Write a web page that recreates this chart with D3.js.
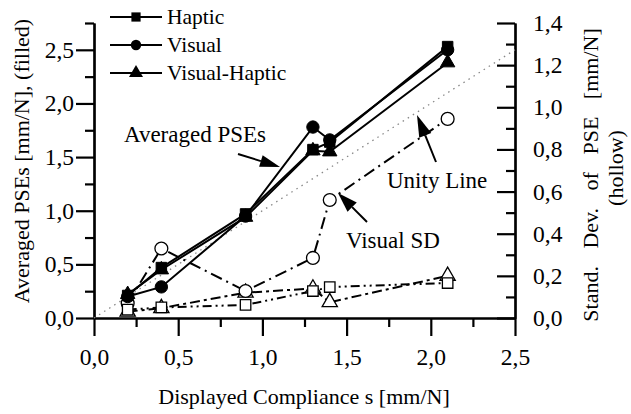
<!DOCTYPE html>
<html>
<head>
<meta charset="utf-8">
<script src="https://cdn.jsdelivr.net/npm/d3@7"></script>
<style>
  html, body { margin: 0; padding: 0; background: #fff; }
  svg { display: block; }
  text { font-family: "Liberation Serif", "Times New Roman", serif; fill: #000; }
</style>
</head>
<body>
<script>
// ---- data ----
const compliance = [0.2, 0.4, 0.9, 1.3, 1.4, 2.1];
const hapticPSE  = [0.21, 0.47, 0.97, 1.57, 1.64, 2.53];
const visualPSE  = [0.20, 0.29, 0.95, 1.78, 1.66, 2.50];
const visHapPSE  = [0.22, 0.45, 0.94, 1.56, 1.55, 2.38];
const hapticSD   = [0.04, 0.05, 0.062, 0.128, 0.147, 0.166];
const visualSD   = [0.07, 0.33, 0.128, 0.285, 0.56, 0.945];
const visHapSD   = [0.03, 0.047, 0.12, 0.14, 0.075, 0.20];
const xTicks = [0, 0.5, 1.0, 1.5, 2.0, 2.5];
const yLeftTicks = [0, 0.5, 1.0, 1.5, 2.0, 2.5];
const yRightTicks = [0, 0.2, 0.4, 0.6, 0.8, 1.0, 1.2, 1.4];
const legendLabels = ["Haptic", "Visual", "Visual-Haptic"];
const unity = [0, 2.5];

const W = 631, H = 414;
const svg = d3.select("body").append("svg").attr("width", W).attr("height", H);
svg.append("rect").attr("width", W).attr("height", H).attr("fill", "#fff");

const x = d3.scaleLinear([0, 2.5], [94, 515]);
const yL = d3.scaleLinear([0, 2.75], [318, 23]);
const yR = d3.scaleLinear([0, 1.4], [318, 23]);
const fmt = d => d3.format(".1f")(d).replace(".", ",");

function styleAxis(g) {
  g.selectAll("path.domain").attr("stroke", "#000").attr("stroke-width", 2.2);
  g.selectAll(".tick line").attr("stroke", "#000").attr("stroke-width", 2.2);
  g.selectAll("text").attr("font-family", "Liberation Serif").attr("font-size", 23.5).attr("fill", "#000");
}

// minor tick values
const xMinor = d3.range(0.25, 2.5, 0.5);
const yLMinor = d3.range(0.25, 2.8, 0.5);
const yRMinor = d3.range(0.1, 1.4, 0.2);

// bottom axis
const gx = svg.append("g").attr("transform", "translate(0,318)");
gx.call(d3.axisBottom(x).tickValues(xTicks).tickFormat(fmt).tickSize(18).tickSizeOuter(0).tickPadding(12));
styleAxis(gx);
const gxm = svg.append("g").attr("transform", "translate(0,318)");
gxm.call(d3.axisBottom(x).tickValues(xMinor).tickFormat("").tickSize(9).tickSizeOuter(0));
styleAxis(gxm);

// left axis
const gl = svg.append("g").attr("transform", "translate(94,0)");
gl.call(d3.axisLeft(yL).tickValues(yLeftTicks).tickFormat(fmt).tickSize(18).tickSizeOuter(0).tickPadding(2));
styleAxis(gl);
const glm = svg.append("g").attr("transform", "translate(94,0)");
glm.call(d3.axisLeft(yL).tickValues(yLMinor).tickFormat("").tickSize(9).tickSizeOuter(0));
styleAxis(glm);

// right axis
const gr = svg.append("g").attr("transform", "translate(515,0)");
gr.call(d3.axisRight(yR).tickValues(yRightTicks).tickFormat(fmt).tickSize(-18).tickSizeOuter(0).tickPadding(18));
styleAxis(gr);
const grm = svg.append("g").attr("transform", "translate(515,0)");
grm.call(d3.axisRight(yR).tickValues(yRMinor).tickFormat("").tickSize(-9).tickSizeOuter(0));
styleAxis(grm);

// axis titles
svg.append("text").attr("x", 304).attr("y", 404).attr("text-anchor", "middle")
  .attr("font-size", 22).text("Displayed Compliance s [mm/N]");
svg.append("text").attr("transform", "translate(21,161) rotate(-90)").attr("text-anchor", "middle")
  .attr("dominant-baseline", "central").attr("font-size", 22).text("Averaged PSEs [mm/N], (filled)");
svg.append("text").attr("transform", "translate(590,175) rotate(-90)").attr("text-anchor", "middle")
  .attr("dominant-baseline", "central").attr("font-size", 22).attr("word-spacing", 12)
  .text("Stand. Dev. of PSE [mm/N]");
svg.append("text").attr("transform", "translate(615,168) rotate(-90)").attr("text-anchor", "middle")
  .attr("dominant-baseline", "central").attr("font-size", 22).text("(hollow)");

// unity line
svg.append("line").attr("x1", x(unity[0])).attr("y1", yL(unity[0]))
  .attr("x2", x(unity[1])).attr("y2", yL(unity[1]))
  .attr("stroke", "#888").attr("stroke-width", 1.3).attr("stroke-dasharray", "1.5,4.5");

// series
const series = [
  {vals: hapticPSE, scale: yL, shape: d3.symbolSquare, fill: "#000", dash: null, size: 110},
  {vals: visualPSE, scale: yL, shape: d3.symbolCircle, fill: "#000", dash: null, size: 120},
  {vals: visHapPSE, scale: yL, shape: d3.symbolTriangle, fill: "#000", dash: null, size: 90},
  {vals: hapticSD, scale: yR, shape: d3.symbolSquare, fill: "#fff", dash: "9,4,2,4,2,4", size: 110},
  {vals: visualSD, scale: yR, shape: d3.symbolCircle, fill: "#fff", dash: "12,5,2,5", size: 130},
  {vals: visHapSD, scale: yR, shape: d3.symbolTriangle, fill: "#fff", dash: "10,4,3,4", size: 100},
];

series.forEach(s => {
  const line = d3.line().x((d, i) => x(compliance[i])).y(d => s.scale(d));
  svg.append("path").datum(s.vals).attr("d", line).attr("fill", "none")
    .attr("stroke", "#000").attr("stroke-width", 2)
    .attr("stroke-dasharray", s.dash);
});
series.slice().reverse().forEach(s => {
  svg.selectAll(null).data(s.vals).enter().append("path")
    .attr("transform", (d, i) => `translate(${x(compliance[i])},${s.scale(d)})`)
    .attr("d", d3.symbol().type(s.shape).size(s.size))
    .attr("fill", s.fill).attr("stroke", "#000").attr("stroke-width", s.fill === "#fff" ? 1.3 : 1);
});

// legend
const legendShapes = [d3.symbolSquare, d3.symbolCircle, d3.symbolTriangle];
legendLabels.forEach((lab, i) => {
  const yy = 17 + i * 28;
  svg.append("line").attr("x1", 110).attr("x2", 162).attr("y1", yy).attr("y2", yy)
    .attr("stroke", "#000").attr("stroke-width", 2);
  svg.append("path").attr("transform", `translate(136,${yy})`)
    .attr("d", d3.symbol().type(legendShapes[i]).size(85)).attr("fill", "#000");
  svg.append("text").attr("x", 167).attr("y", yy).attr("dominant-baseline", "central")
    .attr("font-size", 21.5).text(lab);
});

// annotations
function arrow(x1, y1, x2, y2, len, hw) {
  const a = Math.atan2(y2 - y1, x2 - x1);
  const bx = x2 - len * Math.cos(a), by = y2 - len * Math.sin(a);
  svg.append("line").attr("x1", x1).attr("y1", y1).attr("x2", bx).attr("y2", by)
    .attr("stroke", "#000").attr("stroke-width", 2);
  const px = -Math.sin(a) * hw, py = Math.cos(a) * hw;
  svg.append("path").attr("d", `M${x2},${y2}L${bx + px},${by + py}L${bx - px},${by - py}Z`).attr("fill", "#000");
}
svg.append("text").attr("x", 124).attr("y", 142).attr("font-size", 23).text("Averaged PSEs");
arrow(238, 154, 280, 167, 20, 6);
svg.append("text").attr("x", 387).attr("y", 188).attr("font-size", 23).text("Unity Line");
arrow(436, 162, 417, 115, 22, 6.5);
svg.append("text").attr("x", 346).attr("y", 248).attr("font-size", 23).text("Visual SD");
arrow(367, 222, 338, 193, 20, 6.5);
</script>
</body>
</html>
